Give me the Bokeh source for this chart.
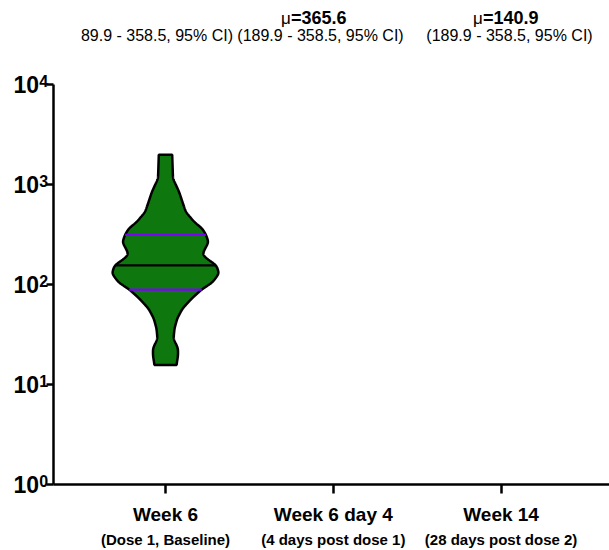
import numpy as np
from bokeh.plotting import figure
from bokeh.models import (Range1d, FixedTicker, LinearAxis, LogAxis, LogScale, ColumnDataSource,
                          LabelSet, Label)
from bokeh.core.properties import value
from bokeh.embed import file_html
from bokeh.resources import INLINE

# ---------------- data ----------------
categories = ["Week 6", "Week 6 day 4", "Week 14"]
subtitles = ["(Dose 1, Baseline)", "(4 days post dose 1)", "(28 days post dose 2)"]
mean_labels = ["", "=365.6", "=140.9"]
ci_labels = ["89.9 - 358.5, 95% CI)", "(189.9 - 358.5, 95% CI)", "(189.9 - 358.5, 95% CI)"]
y_ticks = [1, 10, 100, 1000, 10000]
y_exponents = ["0", "1", "2", "3", "4"]

# violin for Week 6 (value levels and relative density width)
violin_levels = [15.7, 19.5, 22.9, 28.8, 36.3, 45.7, 57.5, 72, 89, 105, 129, 155,
                 174, 195, 210, 265, 314, 363, 420, 528, 665, 838, 1148, 1982]
violin_density = [0.206, 0.234, 0.234, 0.15, 0.168, 0.219, 0.318, 0.486, 0.673, 0.878,
                  1.0, 0.953, 0.82, 0.70, 0.705, 0.804, 0.757, 0.686, 0.542, 0.383,
                  0.318, 0.256, 0.14, 0.125]
q1, median, q3 = 89, 155, 314

FONT = "Liberation Sans"
GREEN = "#0e780e"
PURPLE = "#8000ff"
MAX_HALF = 0.319

# ---------------- layout helpers (pixel -> data) ----------------
W, H = 609, 550
CAT1_PX, CAT_STEP_PX = 165.0, 167.8          # x position of category 1, spacing
TOP_PX, DECADE_PX = 84.0, 100.0             # y pixel of 10^4, pixels per decade

def xd(px):
    return 1 + (px - CAT1_PX) / CAT_STEP_PX

def yd(py):
    return 10 ** (4 - (py - TOP_PX) / DECADE_PX)

p = figure(width=W, height=H, output_backend="svg", toolbar_location=None,
           y_axis_type=None, x_axis_type=None,
           x_range=Range1d(xd(0), xd(W)), y_range=Range1d(yd(H), yd(0)),
           min_border_left=0, min_border_right=0, min_border_top=0, min_border_bottom=0)
p.y_scale = LogScale()
p.outline_line_color = None
p.grid.visible = False
p.background_fill_color = "white"
p.border_fill_color = "white"

AXIS_X = xd(52.6)

yaxis = LogAxis(ticker=FixedTicker(ticks=y_ticks, minor_ticks=[]),
                major_label_overrides={t: "10" for t in y_ticks},
                fixed_location=AXIS_X, bounds=(y_ticks[0], y_ticks[-1]))
yaxis.axis_line_width = 2.5
yaxis.major_tick_line_width = 2.5
yaxis.major_tick_out = 7
yaxis.major_tick_in = 0
yaxis.minor_tick_out = 0
yaxis.major_label_standoff = 7
yaxis.major_label_text_font = FONT
yaxis.major_label_text_font_style = "bold"
yaxis.major_label_text_font_size = "23px"
yaxis.major_label_text_color = "black"
p.add_layout(yaxis, "left")

xaxis = LinearAxis(ticker=FixedTicker(ticks=[1, 2, 3], minor_ticks=[]),
                   major_label_overrides={i + 1: c for i, c in enumerate(categories)},
                   fixed_location=y_ticks[0], bounds=(AXIS_X, xd(W)))
xaxis.axis_line_width = 2.5
xaxis.major_tick_line_width = 2.5
xaxis.major_tick_out = 9
xaxis.major_tick_in = 0
xaxis.minor_tick_out = 0
xaxis.major_label_standoff = 10
xaxis.major_label_text_font = FONT
xaxis.major_label_text_font_style = "bold"
xaxis.major_label_text_font_size = "19px"
xaxis.major_label_text_color = "black"
p.add_layout(xaxis, "below")

# violin shape
lv = np.log10(np.array(violin_levels, dtype=float))
dens = np.array(violin_density, dtype=float)
grid = np.linspace(lv[0], lv[-1], 500)
w = np.interp(grid, lv, dens)
sig = 0.018
step = grid[1] - grid[0]
k = np.arange(-int(4 * sig / step), int(4 * sig / step) + 1) * step
kern = np.exp(-0.5 * (k / sig) ** 2)
kern /= kern.sum()
pad = len(k) // 2
wp = np.concatenate([np.full(pad, w[0]), w, np.full(pad, w[-1])])
ws = np.convolve(wp, kern, mode="valid")
half = ws * MAX_HALF
vals = 10 ** grid
xs = np.concatenate([1 - half, (1 + half)[::-1]])
ys = np.concatenate([vals, vals[::-1]])
p.patch(xs, ys, fill_color=GREEN, line_color="black", line_width=2.5)

def half_at(v):
    return np.interp(np.log10(v), grid, half)

seg = ColumnDataSource(dict(
    x0=[1 - half_at(v) for v in (q1, median, q3)],
    x1=[1 + half_at(v) for v in (q1, median, q3)],
    y=[q1, median, q3],
    c=[PURPLE, "black", PURPLE]))
p.segment(x0="x0", y0="y", x1="x1", y1="y", color="c", line_width=2.2, source=seg)

# superscripts on y labels
sup = ColumnDataSource(dict(x=[xd(38.8)] * len(y_ticks),
                            y=[t * 10 ** (4.0 / DECADE_PX) for t in y_ticks],
                            t=y_exponents))
p.add_layout(LabelSet(x="x", y="y", text="t", source=sup,
                      text_font=value(FONT), text_font_style="bold", text_font_size="16px",
                      text_align="left", text_baseline="middle", text_color="black"))

# second line of x labels
sub = ColumnDataSource(dict(x=[1, 2, 3], y=[yd(539)] * 3, t=subtitles))
p.add_layout(LabelSet(x="x", y="y", text="t", source=sub,
                      text_font=value(FONT), text_font_style="bold", text_font_size="15px",
                      text_align="center", text_baseline="middle", text_color="black"))

# top annotations
ci_pos = [(232.5, "right"), (320, "center"), (509, "center")]
for txt, (px, al) in zip(ci_labels, ci_pos):
    p.add_layout(Label(x=xd(px), y=yd(35), text=txt,
                       text_font=FONT, text_font_size="16px", text_align=al,
                       text_baseline="middle", text_color="black"))
mu_pos = [None, 290.4, 482.4]
for txt, px in zip(mean_labels, mu_pos):
    if not txt:
        continue
    p.add_layout(Label(x=xd(px), y=yd(17.5), text="\u03bc",
                       text_font=FONT, text_font_size="17px", text_align="right",
                       text_baseline="middle", text_color="black"))
    p.add_layout(Label(x=xd(px), y=yd(17.5), text=txt,
                       text_font=FONT, text_font_style="bold", text_font_size="18px",
                       text_align="left", text_baseline="middle", text_color="black"))

open("out.html", "w").write(file_html(p, INLINE))
